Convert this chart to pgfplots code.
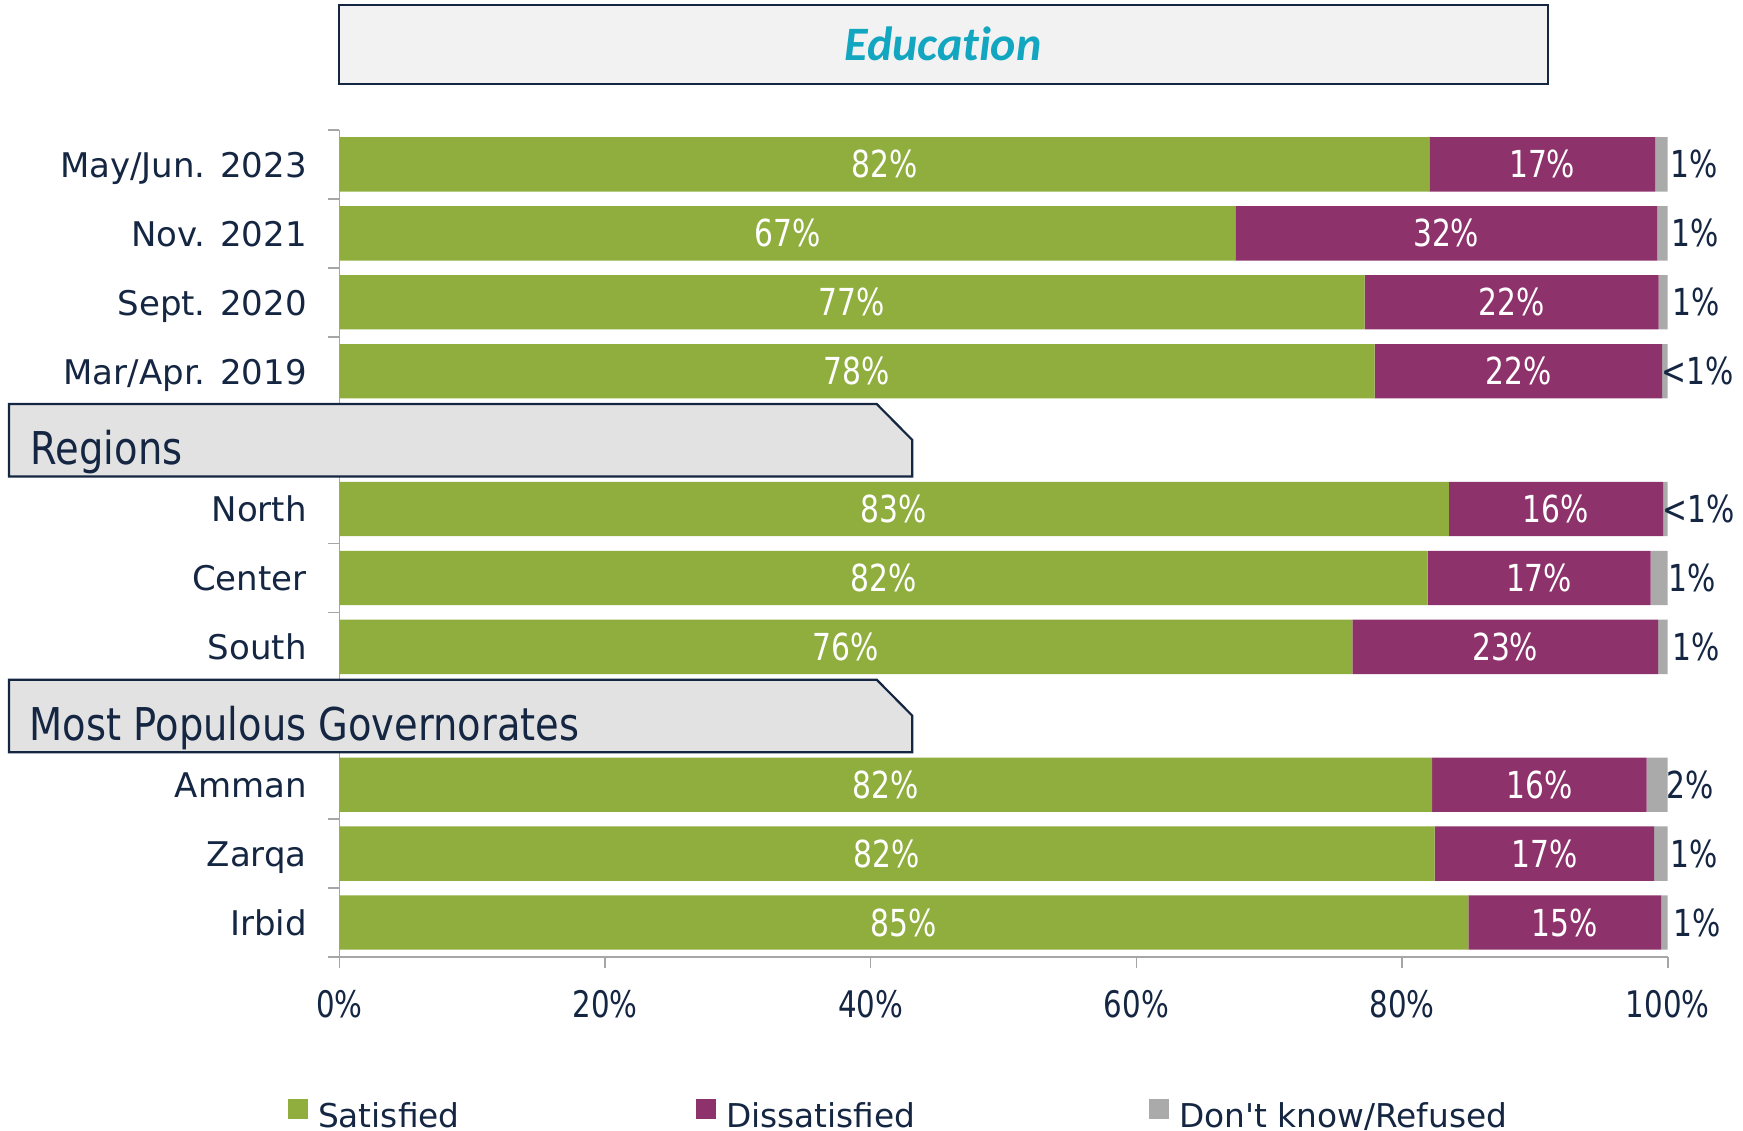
\documentclass[border=0pt]{standalone}
\usepackage{pgfplots}
\pgfplotsset{compat=1.18}
\usepackage{pgfplotstable}
\usepackage{fontspec}
\setmainfont{DejaVu Sans}
\newfontfamily\plainfont{DejaVu Sans}
\newfontfamily\numfont{DejaVu Sans}[FakeStretch=0.8]
\newfontfamily\headfont{DejaVu Sans}[FakeStretch=0.85]
\newfontfamily\titlefont{Carlito}[Ligatures={NoCommon,NoDiscretionary}]

\definecolor{cgreen}{RGB}{143,174,62}
\definecolor{cpurple}{RGB}{142,50,108}
\definecolor{cgray}{RGB}{170,170,170}
\definecolor{navy}{RGB}{20,38,66}
\definecolor{cteal}{RGB}{18,166,192}
\definecolor{boxgray}{RGB}{226,226,226}
\definecolor{titlegray}{RGB}{242,242,242}
\definecolor{axgray}{RGB}{166,166,166}

\pgfplotstableread{
y  sat   dis   dk   ls    ld    lk
11 82.05 17.00 0.95 82\% 17\% 1\%
10 67.45 31.75 0.80 67\% 32\% 1\%
9  77.19 22.13 0.68 77\% 22\% 1\%
8  77.94 21.63 0.43 78\% 22\% <1\%
6  83.52 16.13 0.35 83\% 16\% <1\%
5  81.92 16.80 1.28 82\% 17\% 1\%
4  76.26 23.01 0.73 76\% 23\% 1\%
2  82.27 16.14 1.59 82\% 16\% 2\%
1  82.46 16.51 1.03 82\% 17\% 1\%
0  85.00 14.50 0.50 85\% 15\% 1\%
}\datatable
\pgfplotstablecreatecol[expr={\thisrow{sat}/2}]{cs}{\datatable}
\pgfplotstablecreatecol[expr={\thisrow{sat}+\thisrow{dis}/2}]{cd}{\datatable}
\pgfplotstablecreatecol[expr={\thisrow{sat}+\thisrow{dis}+\thisrow{dk}/2}]{ck}{\datatable}

\begin{document}
\begin{tikzpicture}
\useasboundingbox (0pt,0pt) rectangle (435.75pt,-282.75pt);
\begin{axis}[
  at={(84.825pt,-32.5pt)}, anchor=north west,
  scale only axis, width=332.1pt, height=206.75pt,
  xbar stacked, bar width=13.6pt,
  xmin=0, xmax=100, ymin=-0.5, ymax=11.5,
  axis x line=bottom, axis y line=left,
  axis line style={-, draw=axgray, line width=0.4pt},
  tick align=outside,
  major tick length=2.75pt, minor tick length=2.75pt,
  xtick={0,20,...,100},
  xticklabels={0\%,20\%,40\%,60\%,80\%,100\%},
  x tick style={draw=axgray, line width=0.4pt},
  ytick={0,1,2,4,5,6,8,9,10,11},
  yticklabels={Irbid,Zarqa,Amman,South,Center,North,Mar/Apr. 2019,Sept. 2020,Nov. 2021,May/Jun. 2023},
  minor ytick={-0.5,0.5,...,11.5},
  major y tick style={draw=none},
  minor y tick style={draw=axgray, line width=0.4pt},
  yticklabel style={anchor=base east, inner sep=0pt, yshift=-3.2pt, xshift=-5.2pt,
    font=\fontsize{8.5pt}{10pt}\selectfont, text=navy},
  xticklabel style={anchor=base, inner sep=0pt, yshift=-12.4pt,
    font=\numfont\fontsize{9.15pt}{11pt}\selectfont, text=navy},
  legend columns=3,
  legend style={draw=none, fill=none, inner sep=0pt, outer sep=0pt,
    at={(axis description cs:-0.0386,-0.1923)}, anchor=west,
    font=\plainfont\fontsize{8.2pt}{10pt}\selectfont, text=navy,
    nodes={inner sep=0pt},
    /tikz/every odd column/.append style={column sep=2.5pt},
    /tikz/every even column/.append style={column sep=0pt}},
  legend image code/.code={\fill[#1] (0pt,-0.3pt) rectangle (5pt,4.7pt);},
]
\addplot[fill=cgreen, draw=none] table[x=sat, y=y]{\datatable};
\addlegendentry{\makebox[94.5pt][l]{Satisfied}}
\addplot[fill=cpurple, draw=none] table[x=dis, y=y]{\datatable};
\addlegendentry{\makebox[105.75pt][l]{Dissatisfied}}
\addplot[fill=cgray, draw=none] table[x=dk, y=y]{\datatable};
\addlegendentry{Don't know/Refused}
\end{axis}

\begin{axis}[
  at={(84.825pt,-32.5pt)}, anchor=north west,
  scale only axis, width=332.1pt, height=206.75pt,
  xmin=0, xmax=100, ymin=-0.5, ymax=11.5,
  hide axis, clip=false,
]
\addplot[only marks, mark=none, nodes near coords, point meta=explicit symbolic,
  nodes near coords style={anchor=center, inner sep=0pt, text=white,
    font=\numfont\fontsize{9.3pt}{11pt}\selectfont}]
  table[x=cs, y=y, meta=ls]{\datatable};
\addplot[only marks, mark=none, nodes near coords, point meta=explicit symbolic,
  nodes near coords style={anchor=center, inner sep=0pt, text=white,
    font=\numfont\fontsize{9.3pt}{11pt}\selectfont}]
  table[x=cd, y=y, meta=ld]{\datatable};
\addplot[only marks, mark=none, nodes near coords, point meta=explicit symbolic,
  nodes near coords style={anchor=center, inner sep=0pt, text=navy, xshift=8.25pt,
    font=\numfont\fontsize{9.3pt}{11pt}\selectfont}]
  table[x=ck, y=y, meta=lk]{\datatable};
\end{axis}

\begin{scope}[x=0.25pt, y=-0.25pt]
\draw[fill=titlegray, draw=navy, line width=0.5pt] (339,5.5) rectangle (1548,84);
\node[anchor=base, inner sep=0pt, text=cteal,
  font=\titlefont\bfseries\itshape\fontsize{12pt}{14pt}\selectfont] at (943,61) {Education};
\draw[fill=boxgray, draw=navy, line width=0.55pt]
  (8.9,404) -- (876.7,404) -- (912.3,440) -- (912.3,476.5) -- (8.9,476.5) -- cycle;
\node[anchor=base west, inner sep=0pt, text=navy,
  font=\headfont\fontsize{11.3pt}{13pt}\selectfont] at (30,465) {Regions};
\draw[fill=boxgray, draw=navy, line width=0.55pt]
  (8.9,679.7) -- (876.7,679.7) -- (912.3,715.7) -- (912.3,752.2) -- (8.9,752.2) -- cycle;
\node[anchor=base west, inner sep=0pt, text=navy,
  font=\headfont\fontsize{11.3pt}{13pt}\selectfont] at (29,740.7) {Most Populous Governorates};
\end{scope}
\end{tikzpicture}
\end{document}
